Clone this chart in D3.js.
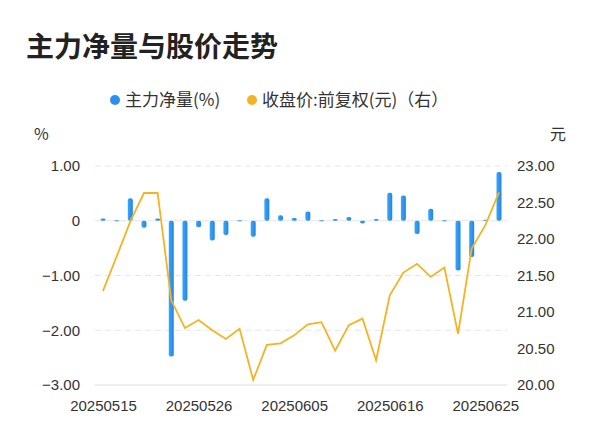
<!DOCTYPE html>
<html><head><meta charset="utf-8">
<script src="https://cdn.jsdelivr.net/npm/d3@7"></script>
<style>body{margin:0;background:#fff;font-family:"Noto Sans CJK SC","Noto Sans",sans-serif;}</style>
</head><body><div id="chart"></div>
<script>
const dates = ['20250515','20250516','20250519','20250520','20250521','20250522','20250523','20250526','20250527','20250528','20250529','20250530','20250603','20250604','20250605','20250606','20250609','20250610','20250611','20250612','20250613','20250616','20250617','20250618','20250619','20250620','20250623','20250624','20250625','20250626'];
const netVol = [0.04,0.01,0.41,-0.13,0.04,-2.48,-1.46,-0.12,-0.36,-0.26,0.01,-0.29,0.41,0.10,0.05,0.17,0.01,0.03,0.07,-0.05,0.03,0.51,0.46,-0.24,0.22,0.01,-0.91,-0.66,0.02,0.89];
const price = [21.29,21.76,22.24,22.63,22.63,21.16,20.78,20.89,20.75,20.63,20.77,20.07,20.55,20.57,20.68,20.83,20.86,20.47,20.82,20.91,20.34,21.23,21.54,21.66,21.48,21.61,20.70,21.87,22.19,22.64];
const leftTicks = [1,0,-1,-2,-3];
const rightTicks = [23,22.5,22,21.5,21,20.5,20];
const tickDates = ['20250515','20250526','20250605','20250616','20250625'];

const W = 600, H = 446;
const svg = d3.select('#chart').append('svg').attr('width', W).attr('height', H);
const x = d3.scalePoint().domain(dates).range([103, 499]);
const yL = d3.scaleLinear().domain([-3, 1]).range([385, 166]);
const yR = d3.scaleLinear().domain([20, 23]).range([385, 166]);

svg.append('text').attr('x', 26).attr('y', 57).text('主力净量与股价走势')
  .attr('font-size', 28).attr('font-weight', 'bold').attr('fill', '#222');

// legend
const lg = svg.append('g').attr('font-size', 17).attr('fill', '#333');
lg.append('circle').attr('cx', 115).attr('cy', 100).attr('r', 5).attr('fill', '#2b8ef0');
lg.append('text').attr('x', 125).attr('y', 106).text('主力净量(%)');
lg.append('circle').attr('cx', 252).attr('cy', 100).attr('r', 5).attr('fill', '#f5b323');
lg.append('text').attr('x', 262).attr('y', 106).text('收盘价:前复权(元)（右）');

svg.append('text').attr('x', 34).attr('y', 140).text('%').attr('font-size', 16).attr('fill', '#333');
svg.append('text').attr('x', 550).attr('y', 140).text('元').attr('font-size', 16).attr('fill', '#333');

// grid
svg.append('g').selectAll('line').data(leftTicks).join('line')
  .attr('x1', 95).attr('x2', 507).attr('y1', d => yL(d)).attr('y2', d => yL(d))
  .attr('stroke', d => d === -3 ? '#ddd' : '#e6e6e6')
  .attr('stroke-dasharray', d => (d === -3 || d === 0) ? null : '6,4');

const lAxis = d3.axisLeft(yL).tickValues(leftTicks).tickSize(0).tickPadding(0)
  .tickFormat(d => d === 0 ? '0' : d3.format('.2f')(d));
svg.append('g').attr('transform', 'translate(80,0)').call(lAxis)
  .call(g => g.select('.domain').remove())
  .selectAll('text').attr('font-size', 15).attr('fill', '#333').attr('font-family', 'Liberation Sans, sans-serif');

const rAxis = d3.axisRight(yR).tickValues(rightTicks).tickSize(0).tickPadding(0).tickFormat(d3.format('.2f'));
svg.append('g').attr('transform', 'translate(517,0)').call(rAxis)
  .call(g => g.select('.domain').remove())
  .selectAll('text').attr('font-size', 15).attr('fill', '#333').attr('font-family', 'Liberation Sans, sans-serif');

const xAxis = d3.axisBottom(x).tickValues(tickDates).tickSize(0).tickPadding(0);
svg.append('g').attr('transform', 'translate(0,400)').call(xAxis)
  .call(g => g.select('.domain').remove())
  .selectAll('text').attr('font-size', 15).attr('fill', '#333').attr('font-family', 'Liberation Sans, sans-serif');

// bars
const grad = svg.append('defs').append('linearGradient').attr('id', 'bg').attr('x1', 0).attr('x2', 1);
grad.append('stop').attr('offset', '0%').attr('stop-color', '#3ca6f5');
grad.append('stop').attr('offset', '100%').attr('stop-color', '#1f86ec');
svg.append('g').selectAll('rect').data(netVol).join('rect')
  .attr('x', (d, i) => x(dates[i]) - 2.5).attr('width', 5)
  .attr('y', d => Math.min(yL(d), yL(0)))
  .attr('height', d => Math.max(1, Math.abs(yL(d) - yL(0))))
  .attr('rx', 2).attr('fill', 'url(#bg)');

// line
const line = d3.line().x((d, i) => x(dates[i])).y(d => yR(d));
svg.append('path').datum(price).attr('d', line).attr('fill', 'none')
  .attr('stroke', '#f5b323').attr('stroke-width', 1.8);
</script></body></html>
